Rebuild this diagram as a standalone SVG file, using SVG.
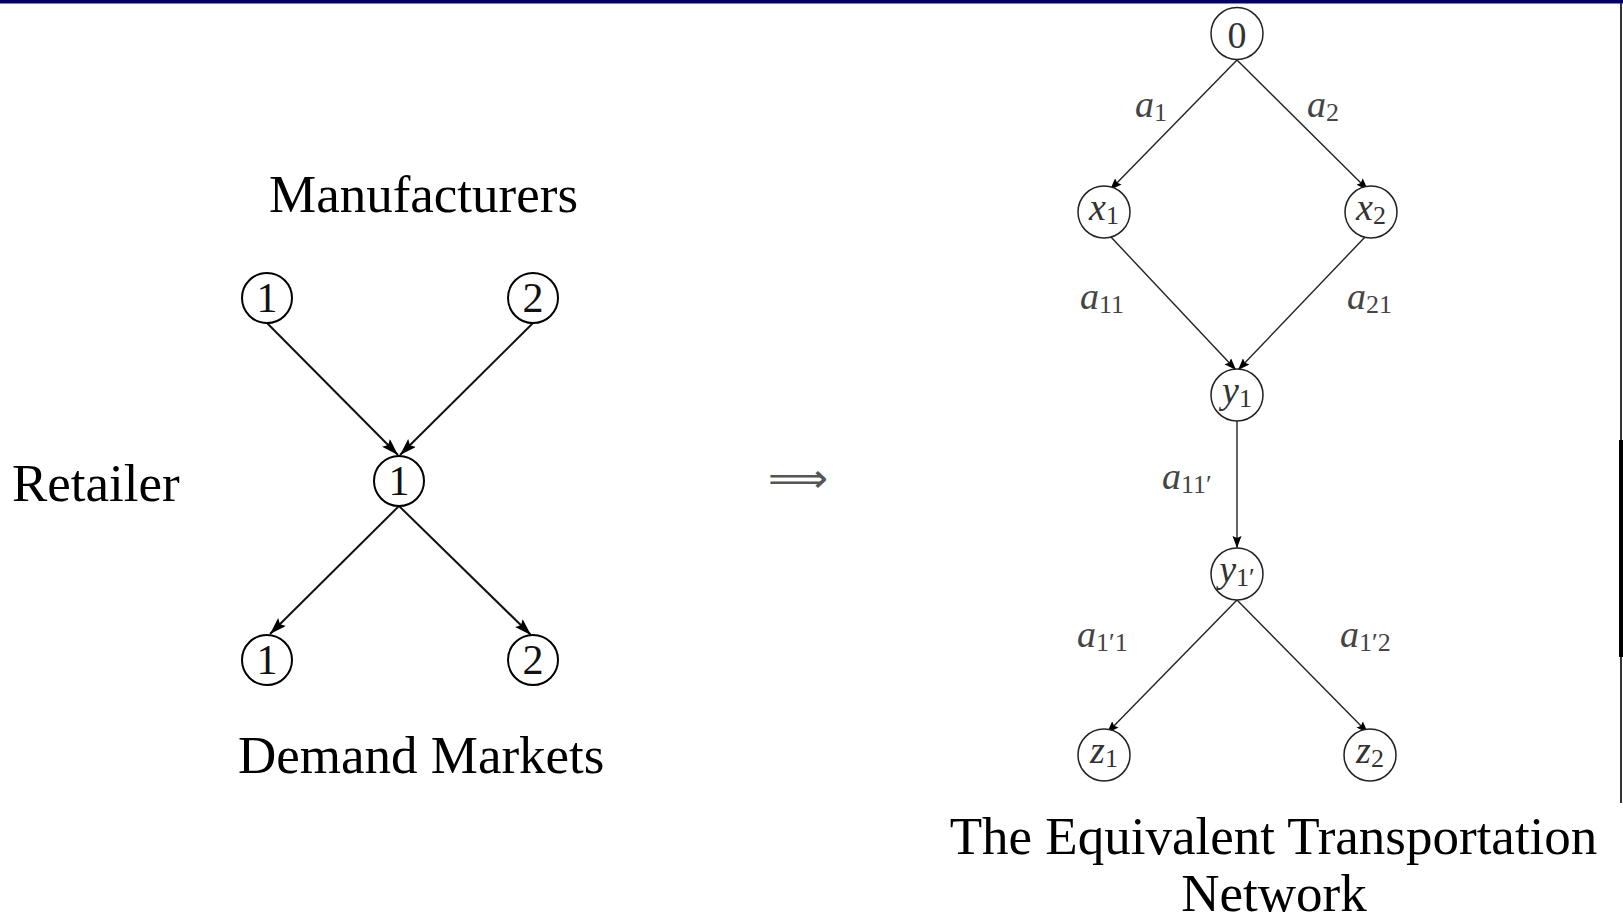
<svg xmlns="http://www.w3.org/2000/svg" width="1623" height="921" viewBox="0 0 1623 921">
<style>
.title{font-family:"Liberation Serif","Times New Roman",serif;font-size:53px;fill:#000}
.nl{font-family:"Liberation Serif","Times New Roman",serif;font-size:42px;fill:#111;text-anchor:middle}
.nr{font-family:"Liberation Serif","Times New Roman",serif;font-size:38px;fill:#333;text-anchor:middle}
.it{font-style:italic}
.sub{font-size:26px;font-style:normal}
.lab{font-family:"Liberation Serif","Times New Roman",serif;font-size:38px;font-style:italic;fill:#444}
.cl{fill:#fff;stroke:#000;stroke-width:2}
.cr{fill:#fff;stroke:#222;stroke-width:1.5}
.el{stroke:#111;stroke-width:2;fill:none}
.er{stroke:#222;stroke-width:1.4;fill:none}
</style>
<defs>
<marker id="ahL" markerUnits="userSpaceOnUse" markerWidth="18" markerHeight="12" refX="17" refY="5.5" orient="auto">
<path d="M0,0 L17,5.5 L0,11 L3,5.5 z" fill="#000"/>
</marker>
<marker id="ahR" markerUnits="userSpaceOnUse" markerWidth="13" markerHeight="10" refX="12" refY="4.5" orient="auto">
<path d="M0,0 L12,4.5 L0,9 L2,4.5 z" fill="#000"/>
</marker>
</defs>
<rect x="0" y="0" width="1623" height="921" fill="#fff"/>
<rect x="0" y="0" width="1623" height="3.5" fill="#000066"/>
<line x1="1621" y1="3" x2="1621" y2="803" stroke="#333" stroke-width="2"/>
<rect x="1619" y="440" width="4" height="217" fill="#000"/>

<g id="connectors">
<line class="el" x1="267" y1="323" x2="398" y2="455" marker-end="url(#ahL)"/>
<line class="el" x1="533" y1="323" x2="400" y2="455" marker-end="url(#ahL)"/>
<line class="el" x1="399" y1="506" x2="270" y2="634" marker-end="url(#ahL)"/>
<line class="el" x1="399" y1="506" x2="531" y2="635" marker-end="url(#ahL)"/>
<line class="er" x1="1237" y1="60" x2="1110" y2="190" marker-end="url(#ahR)"/>
<line class="er" x1="1237" y1="60" x2="1368" y2="190" marker-end="url(#ahR)"/>
<line class="er" x1="1110" y1="236" x2="1236" y2="370" marker-end="url(#ahR)"/>
<line class="er" x1="1366" y1="236" x2="1238" y2="370" marker-end="url(#ahR)"/>
<line class="er" x1="1237" y1="421" x2="1237" y2="548" marker-end="url(#ahR)"/>
<line class="er" x1="1237" y1="600" x2="1107" y2="733" marker-end="url(#ahR)"/>
<line class="er" x1="1237" y1="600" x2="1368" y2="733" marker-end="url(#ahR)"/>
</g>

<g id="labels">
<text class="title" x="269" y="212">Manufacturers</text>
<text class="title" x="12" y="501">Retailer</text>
<text class="title" x="238" y="773">Demand Markets</text>
<text class="title" x="1273.5" y="854" text-anchor="middle">The Equivalent Transportation</text>
<text class="title" x="1274" y="911" text-anchor="middle">Network</text>
<text x="798" y="492" font-family="DejaVu Sans, sans-serif" font-size="40" fill="#555" text-anchor="middle" textLength="60" lengthAdjust="spacingAndGlyphs">⟹</text>
</g>

<g id="m1"><circle class="cl" cx="267" cy="298" r="25"/><text class="nl" x="267" y="312">1</text></g>
<g id="m2"><circle class="cl" cx="533" cy="298" r="25"/><text class="nl" x="533" y="312">2</text></g>
<g id="r1"><circle class="cl" cx="399" cy="481" r="25"/><text class="nl" x="399" y="495">1</text></g>
<g id="d1"><circle class="cl" cx="267" cy="660" r="25"/><text class="nl" x="267" y="674">1</text></g>
<g id="d2"><circle class="cl" cx="533" cy="660" r="25"/><text class="nl" x="533" y="674">2</text></g>

<g id="n0"><circle class="cr" cx="1237" cy="33.5" r="26"/><text class="nr" x="1237" y="48" font-size="44">0</text></g>
<g id="nx1"><circle class="cr" cx="1104" cy="212" r="26"/><text class="nr" x="1104" y="220"><tspan class="it">x</tspan><tspan class="sub" dy="4">1</tspan></text></g>
<g id="nx2"><circle class="cr" cx="1371" cy="212" r="26"/><text class="nr" x="1371" y="220"><tspan class="it">x</tspan><tspan class="sub" dy="4">2</tspan></text></g>
<g id="ny1"><circle class="cr" cx="1237" cy="395" r="26"/><text class="nr" x="1237" y="403"><tspan class="it">y</tspan><tspan class="sub" dy="4">1</tspan></text></g>
<g id="ny1p"><circle class="cr" cx="1237" cy="574" r="26"/><text class="nr" x="1237" y="582"><tspan class="it">y</tspan><tspan class="sub" dy="4">1′</tspan></text></g>
<g id="nz1"><circle class="cr" cx="1104" cy="755" r="26"/><text class="nr" x="1104" y="763"><tspan class="it">z</tspan><tspan class="sub" dy="4">1</tspan></text></g>
<g id="nz2"><circle class="cr" cx="1370" cy="755" r="26"/><text class="nr" x="1370" y="763"><tspan class="it">z</tspan><tspan class="sub" dy="4">2</tspan></text></g>

<g id="edge-labels">
<text class="lab" x="1135" y="117">a<tspan class="sub" dy="4">1</tspan></text>
<text class="lab" x="1307" y="117">a<tspan class="sub" dy="4">2</tspan></text>
<text class="lab" x="1080" y="309">a<tspan class="sub" dy="4">11</tspan></text>
<text class="lab" x="1347" y="309">a<tspan class="sub" dy="4">21</tspan></text>
<text class="lab" x="1162" y="489">a<tspan class="sub" dy="4">11′</tspan></text>
<text class="lab" x="1077" y="647">a<tspan class="sub" dy="4">1′1</tspan></text>
<text class="lab" x="1340" y="647">a<tspan class="sub" dy="4">1′2</tspan></text>
</g>
</svg>
